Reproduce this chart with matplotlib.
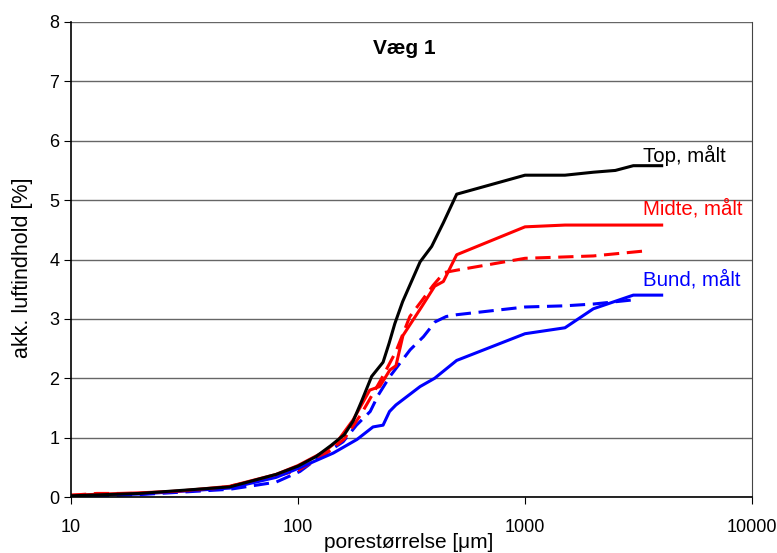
import matplotlib
matplotlib.use("Agg")
import matplotlib.pyplot as plt

plt.rcParams['font.family'] = ['Liberation Sans', 'DejaVu Sans']

# Top, målt (black solid)
top_x = [10, 20, 50, 80, 100, 120, 140, 160, 175, 190, 211, 237, 252, 267, 289, 345, 388, 437, 500, 1000, 1500, 2000, 2500, 3000, 4000]
top_y = [0.02, 0.06, 0.17, 0.38, 0.52, 0.68, 0.87, 1.05, 1.28, 1.60, 2.03, 2.27, 2.59, 2.92, 3.29, 3.96, 4.22, 4.62, 5.10, 5.42, 5.42, 5.47, 5.50, 5.58, 5.58]

# Midte, målt (red solid)
mid_x = [10, 20, 30, 50, 80, 100, 130, 150, 175, 207, 229, 254, 270, 290, 350, 400, 437, 500, 1000, 1500, 4000]
mid_y = [0.03, 0.07, 0.10, 0.18, 0.38, 0.53, 0.76, 0.95, 1.30, 1.80, 1.86, 2.14, 2.21, 2.72, 3.20, 3.55, 3.63, 4.08, 4.55, 4.58, 4.58]

# Midte (red dashed)
midd_x = [10, 13, 20, 42, 68, 100, 130, 160, 190, 230, 270, 311, 350, 393, 440, 500, 1000, 2000, 3500]
midd_y = [0.03, 0.06, 0.06, 0.13, 0.28, 0.45, 0.70, 0.98, 1.40, 1.95, 2.45, 3.04, 3.30, 3.56, 3.78, 3.82, 4.02, 4.06, 4.15]

# Bund, målt (blue solid)
bund_x = [10, 20, 50, 80, 100, 143, 182, 214, 237, 253, 270, 345, 400, 500, 1000, 1500, 2000, 3000, 4000]
bund_y = [0.02, 0.05, 0.15, 0.33, 0.48, 0.74, 0.97, 1.18, 1.21, 1.44, 1.55, 1.86, 2.00, 2.30, 2.75, 2.85, 3.17, 3.40, 3.40]

# Bund (blue dashed)
bundd_x = [10, 20, 50, 80, 102, 117, 158, 181, 208, 226, 254, 312, 357, 402, 450, 500, 1000, 1500, 2000, 3000]
bundd_y = [0.01, 0.04, 0.13, 0.25, 0.43, 0.60, 0.93, 1.21, 1.44, 1.72, 2.03, 2.48, 2.70, 2.95, 3.04, 3.07, 3.20, 3.22, 3.25, 3.32]

labels = ["Top, målt", "Midte, målt", "Bund, målt"]
title = "Væg 1"

fig = plt.figure(figsize=(7.77, 5.53), dpi=100)
ax = fig.add_axes([71/777, 56/553, (752-71)/777, (497-22)/553])

lw = 2.2
dash = (0, (5, 2.5))
ax.plot(bundd_x, bundd_y, color='#0000ff', lw=lw, linestyle=dash)
ax.plot(midd_x, midd_y, color='#ff0000', lw=lw, linestyle=dash)
ax.plot(bund_x, bund_y, color='#0000ff', lw=lw)
ax.plot(mid_x, mid_y, color='#ff0000', lw=lw)
ax.plot(top_x, top_y, color='black', lw=lw)

ax.set_xscale('log')
ax.set_xlim(10, 10000)
ax.set_ylim(0, 8)
ax.set_yticks(range(0, 9))
ax.set_xticks([10, 100, 1000, 10000])
ax.set_xticklabels(['10', '100', '1000', '10000'])
ax.minorticks_off()
ax.yaxis.grid(True, color='#666666', lw=1.0)
ax.set_axisbelow(True)
ax.tick_params(axis='both', direction='out', length=5, labelsize=13, colors='black')
ax.tick_params(axis='x', pad=11)
for s in ['left', 'bottom']:
    ax.spines[s].set_color('black')
    ax.spines[s].set_linewidth(1.2)
ax.spines['right'].set_color('#444444')
ax.spines['top'].set_visible(False)

ax.set_xlabel("porestørrelse [μm]", fontsize=15)
ax.xaxis.label.set_va('center')
ax.xaxis.set_label_coords(0.496, (497 - 543) / 475)
ax.set_ylabel("akk. luftindhold [%]", fontsize=15.5)
ax.yaxis.label.set_va('center')
ax.yaxis.set_label_coords((23 - 71) / 681, (497 - 268) / 475)

ax.text(0.49, 0.945, title, transform=ax.transAxes, ha='center', va='center', fontsize=15, fontweight='bold')
lx = (643 - 71) / 681
ax.text(lx, (497 - 155) / 475, labels[0], transform=ax.transAxes, ha='left', va='center', fontsize=14.7, color='black')
ax.text(lx, (497 - 209) / 475, labels[1], transform=ax.transAxes, ha='left', va='center', fontsize=14.7, color='#ff0000')
ax.text(lx, (497 - 280) / 475, labels[2], transform=ax.transAxes, ha='left', va='center', fontsize=14.7, color='#0000ff')

fig.savefig('out.png', dpi=100)
